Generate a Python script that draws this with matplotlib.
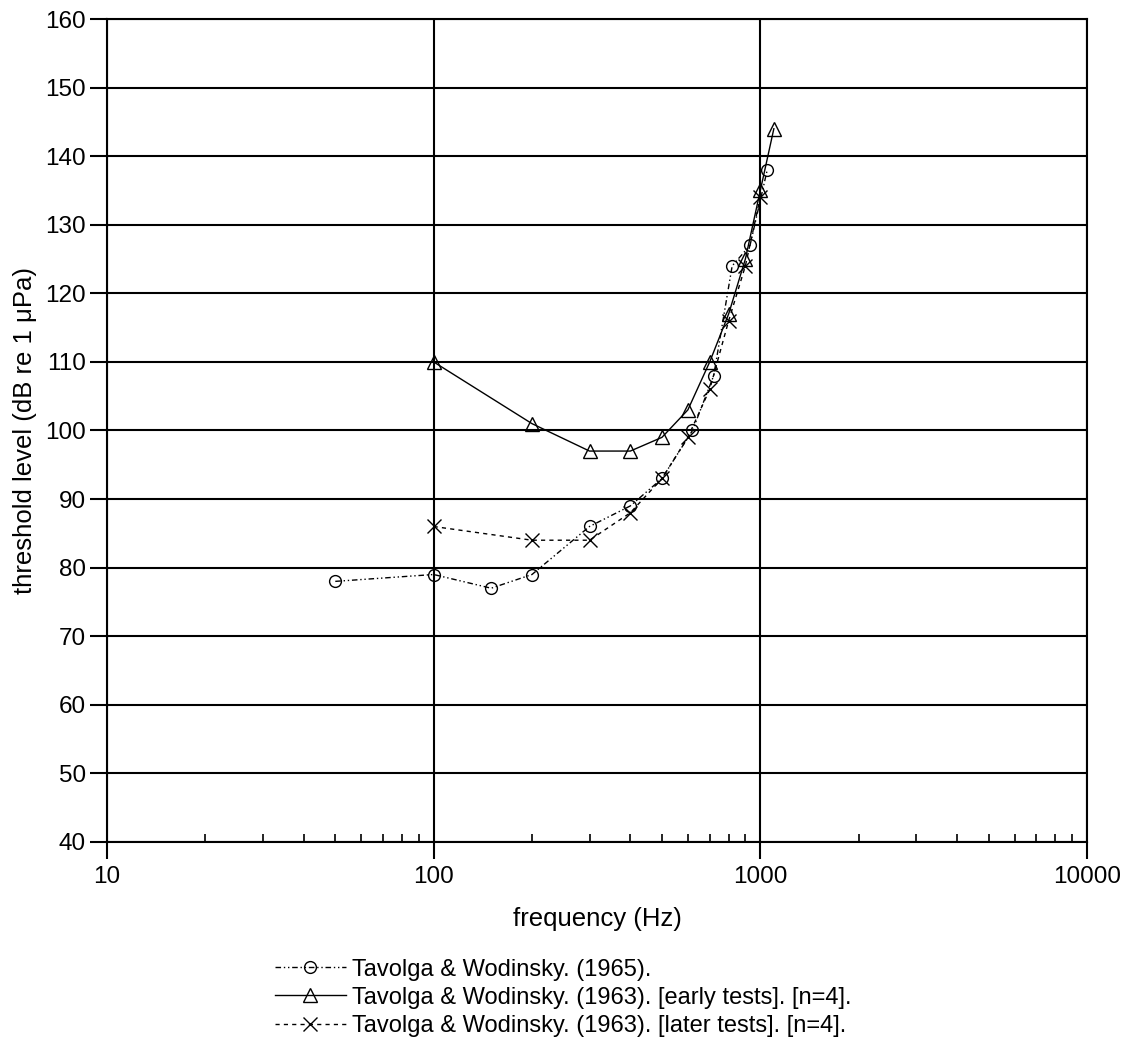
import numpy as np
import matplotlib.pyplot as plt
from matplotlib.ticker import LogLocator, FixedLocator, NullFormatter

plt.rcParams['font.family'] = ['Liberation Sans', 'DejaVu Sans']

# Tavolga & Wodinsky (1965)
f_1965 = [50, 100, 150, 200, 300, 400, 500, 620, 720, 820, 930, 1050]
db_1965 = [78, 79, 77, 79, 86, 89, 93, 100, 108, 124, 127, 138]

# Tavolga & Wodinsky (1963) early tests
f_early = [100, 200, 300, 400, 500, 600, 700, 800, 900, 1000, 1100]
db_early = [110, 101, 97, 97, 99, 103, 110, 117, 125, 135, 144]

# Tavolga & Wodinsky (1963) later tests
f_later = [100, 200, 300, 400, 500, 600, 700, 800, 900, 1000]
db_later = [86, 84, 84, 88, 93, 99, 106, 116, 124, 134]

labels = ['Tavolga & Wodinsky. (1965).',
          'Tavolga & Wodinsky. (1963). [early tests]. [n=4].',
          'Tavolga & Wodinsky. (1963). [later tests]. [n=4].']

fig = plt.figure(figsize=(11.33, 10.51), dpi=100)
ax = fig.add_axes([0.0944, 0.1989, 0.865, 0.783])

ax.plot(f_1965, db_1965, color='black', lw=1, ls=(0, (4, 2, 1, 2, 1, 2)),
        marker='o', ms=8.5, mfc='none', mec='black', mew=1, label=labels[0])
ax.plot(f_early, db_early, color='black', lw=1, ls='-',
        marker='^', ms=10, mfc='none', mec='black', mew=1, label=labels[1])
ax.plot(f_later, db_later, color='black', lw=1, ls=(0, (3, 3)),
        marker='x', ms=10, mec='black', mew=1, label=labels[2])

ax.set_xscale('log')
ax.set_xlim(10, 10000)
ax.set_ylim(40, 160)
ax.set_yticks(np.arange(40, 161, 10))
ax.xaxis.set_major_locator(FixedLocator([10, 100, 1000, 10000]))
ax.set_xticklabels(['10', '100', '1000', '10000'])
ax.xaxis.set_minor_locator(LogLocator(base=10, subs=np.arange(2, 10)))
ax.xaxis.set_minor_formatter(NullFormatter())

ax.grid(True, which='major', color='black', lw=1.5)
ax.set_axisbelow(True)
for s in ax.spines.values():
    s.set_linewidth(1.5)

ax.tick_params(axis='both', which='major', direction='out', length=12, width=1.5,
               labelsize=17.5, pad=3)
ax.tick_params(axis='x', which='major', pad=5)
ax.tick_params(axis='x', which='minor', direction='in', length=6, width=1.2)
ax.tick_params(axis='y', which='minor', left=False)

ax.set_xlabel('frequency (Hz)', fontsize=18.5, labelpad=14)
ax.set_ylabel('threshold level (dB re 1 \u03bcPa)', fontsize=18.5, labelpad=6)

fig.legend(loc='upper left', bbox_to_anchor=(0.2427, 0.088), frameon=False,
           fontsize=17, handlelength=3.0, handletextpad=0.25,
           labelspacing=0.26, borderaxespad=0, borderpad=0)

fig.savefig('out.png', dpi=100)
